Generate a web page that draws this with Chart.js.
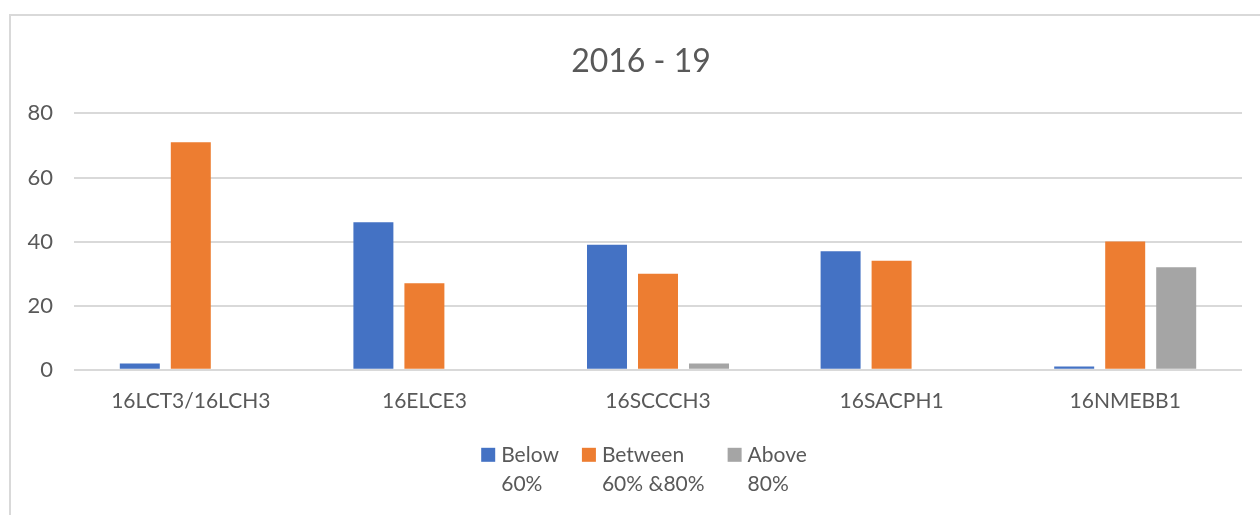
<!DOCTYPE html>
<html>
<head>
<meta charset="utf-8">
<script src="https://cdn.jsdelivr.net/npm/chart.js@4"></script>
<style>
  html, body { margin: 0; padding: 0; background: #fff; overflow: hidden; }
  #frame { position: absolute; left: 9px; top: 14px; width: 1300px; height: 600px; border: 2px solid #d9d9d9; box-sizing: border-box; }
  #wrap { position: absolute; left: 0; top: 0; width: 1260px; height: 515px; }
</style>
</head>
<body>
<div id="frame"></div>
<div id="wrap"><canvas id="chart"></canvas></div>
<script>
const categories = ['16LCT3/16LCH3', '16ELCE3', '16SCCCH3', '16SACPH1', '16NMEBB1'];
const belowValues = [2, 46, 39, 37, 1];
const betweenValues = [71, 27, 30, 34, 40];
const aboveValues = [0, 0, 2, 0, 32];
const seriesLabels = ['Below\n60%', 'Between\n60% &80%', 'Above\n80%'];
const yTicks = [0, 20, 40, 60, 80];

const textColor = '#595959';
const gridColor = '#d9d9d9';
const fontFamily = 'Lato, "Noto Sans", sans-serif';

// Excel centres title and legend on the whole frame, not on the plot
const titleShift = {
    id: 'titleShift',
    afterLayout(chart) {
        chart.titleBlock.left += 40;
    }
};

// legend with two-line labels, like the Excel one
const multiLineLegend = {
    id: 'multiLineLegend',
    afterDraw(chart) {
        const c = chart.ctx;
        const boxSize = 14, boxGap = 6, itemGap = 23, lineH = 29;
        c.save();
        c.font = '21px ' + fontFamily;
        c.textBaseline = 'middle';
        c.textAlign = 'left';
        const items = chart.data.datasets.map(ds => {
            const lines = ds.label.split('\n');
            const w = Math.max(...lines.map(l => c.measureText(l).width));
            return { lines: lines, w: w, color: ds.backgroundColor };
        });
        const total = items.reduce((s, it) => s + boxSize + boxGap + it.w, 0) + itemGap * (items.length - 1);
        let x = (chart.titleBlock.left + chart.titleBlock.right) / 2 - total / 2 + 3;
        const y = chart.chartArea.bottom + 85;
        items.forEach(it => {
            c.fillStyle = it.color;
            c.fillRect(x, y - boxSize / 2, boxSize, boxSize);
            c.fillStyle = textColor;
            it.lines.forEach((line, i) => {
                c.fillText(line, x + boxSize + boxGap, y + i * lineH);
            });
            x += boxSize + boxGap + it.w + itemGap;
        });
        c.restore();
    }
};

const ctx = document.getElementById('chart').getContext('2d');
new Chart(ctx, {
    type: 'bar',
    data: {
        labels: categories,
        datasets: [
            { label: seriesLabels[0], data: belowValues, backgroundColor: '#4472C4' },
            { label: seriesLabels[1], data: betweenValues, backgroundColor: '#ED7D31' },
            { label: seriesLabels[2], data: aboveValues, backgroundColor: '#A5A5A5' }
        ]
    },
    options: {
        responsive: true,
        maintainAspectRatio: false,
        animation: false,
        datasets: {
            bar: { barPercentage: 0.784, categoryPercentage: 0.655 }
        },
        layout: {
            padding: { top: 20, right: 18, bottom: 90, left: 0 }
        },
        scales: {
            x: {
                grid: { display: false },
                border: { display: false },
                ticks: {
                    color: textColor,
                    padding: 11,
                    font: { family: fontFamily, size: 21 }
                }
            },
            y: {
                min: 0,
                max: yTicks[yTicks.length - 1],
                afterBuildTicks: function(scale) {
                    scale.ticks = yTicks.map(v => ({ value: v }));
                },
                afterFit: function(scale) {
                    scale.width = 74;
                },
                grid: { color: gridColor, lineWidth: 2, drawTicks: false },
                border: { display: false },
                ticks: {
                    color: textColor,
                    padding: 21,
                    font: { family: fontFamily, size: 22 }
                }
            }
        },
        plugins: {
            title: {
                display: true,
                text: '2016 - 19',
                color: textColor,
                font: { family: fontFamily, size: 32, weight: 'normal' },
                padding: { top: 22, bottom: 33 }
            },
            legend: { display: false },
            tooltip: { enabled: false }
        }
    },
    plugins: [titleShift, multiLineLegend]
});
</script>
</body>
</html>
